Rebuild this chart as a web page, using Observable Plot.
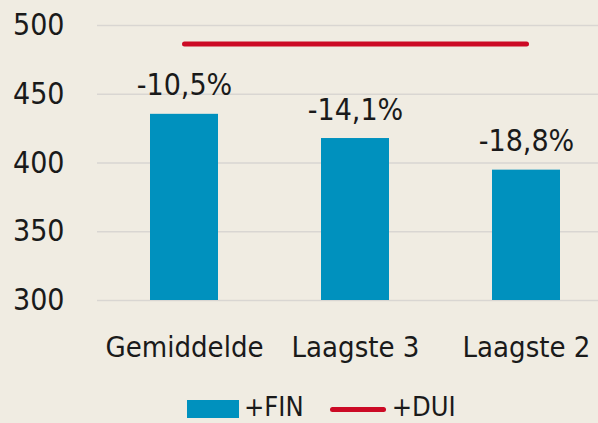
<!DOCTYPE html>
<html><head><meta charset="utf-8">
<script src="https://cdn.jsdelivr.net/npm/d3@7"></script>
<script src="https://cdn.jsdelivr.net/npm/@observablehq/plot@0.6"></script>
<style>
body{margin:0;background:#f0ece2;position:relative;width:598px;height:423px;overflow:hidden;font-family:"DejaVu Sans Condensed",Roboto,sans-serif;color:#1a1a1a;}
#legend{position:absolute;top:394px;left:187px;height:26px;display:flex;align-items:center;font-size:27px;line-height:26px;}
.sw{width:52px;height:18px;background:#0091be;margin-right:5px;margin-top:4px;}
.ln{width:56px;height:5px;border-radius:3px;background:#cc0a25;margin-left:26px;margin-right:6px;margin-top:4px;}
</style></head>
<body>
<div id="chart"></div>
<div id="legend"><div class="sw"></div><span>+FIN</span><div class="ln"></div><span>+DUI</span></div>
<script>
const categories = ["Gemiddelde", "Laagste 3", "Laagste 2"];
const finValues = [435.4, 417.8, 394.8];
const duiValues = [486.5, 486.5, 486.5];
const changeLabels = ["-10,5%", "-14,1%", "-18,8%"];
const yTicks = [300, 350, 400, 450, 500];

const rows = categories.map((c, i) => ({cat: c, fin: finValues[i], dui: duiValues[i], label: changeLabels[i]}));

const chart = Plot.plot({
  width: 598,
  height: 370,
  marginTop: 25,
  marginBottom: 70,
  marginLeft: 97,
  marginRight: 0,
  style: {background: "transparent", fontFamily: '"DejaVu Sans Condensed",Roboto,sans-serif', color: "#1a1a1a"},
  x: {domain: categories, range: [97.5, 612], paddingInner: 0.6, paddingOuter: 0.3, label: null},
  y: {domain: [300, 500], label: null},
  marks: [
    Plot.gridY(yTicks, {stroke: "#d9d6d2", strokeOpacity: 1, strokeWidth: 1.5}),
    Plot.barY(rows, {x: "cat", y1: 300, y2: "fin", fill: "#0091be"}),
    Plot.line(rows, {x: "cat", y: "dui", stroke: "#cc0a25", strokeWidth: 5, strokeLinecap: "round"}),
    Plot.text(rows, {x: "cat", y: "fin", text: "label", lineAnchor: "bottom", dy: -19, fontSize: 30, fill: "#1a1a1a"}),
    Plot.axisY(yTicks, {tickSize: 0, tickPadding: 33, fontSize: 30, label: null, fill: "#1a1a1a"}),
    Plot.axisX({tickSize: 0, tickPadding: 36, fontSize: 29, label: null, fill: "#1a1a1a"})
  ]
});
document.getElementById("chart").appendChild(chart);
</script>
</body></html>
